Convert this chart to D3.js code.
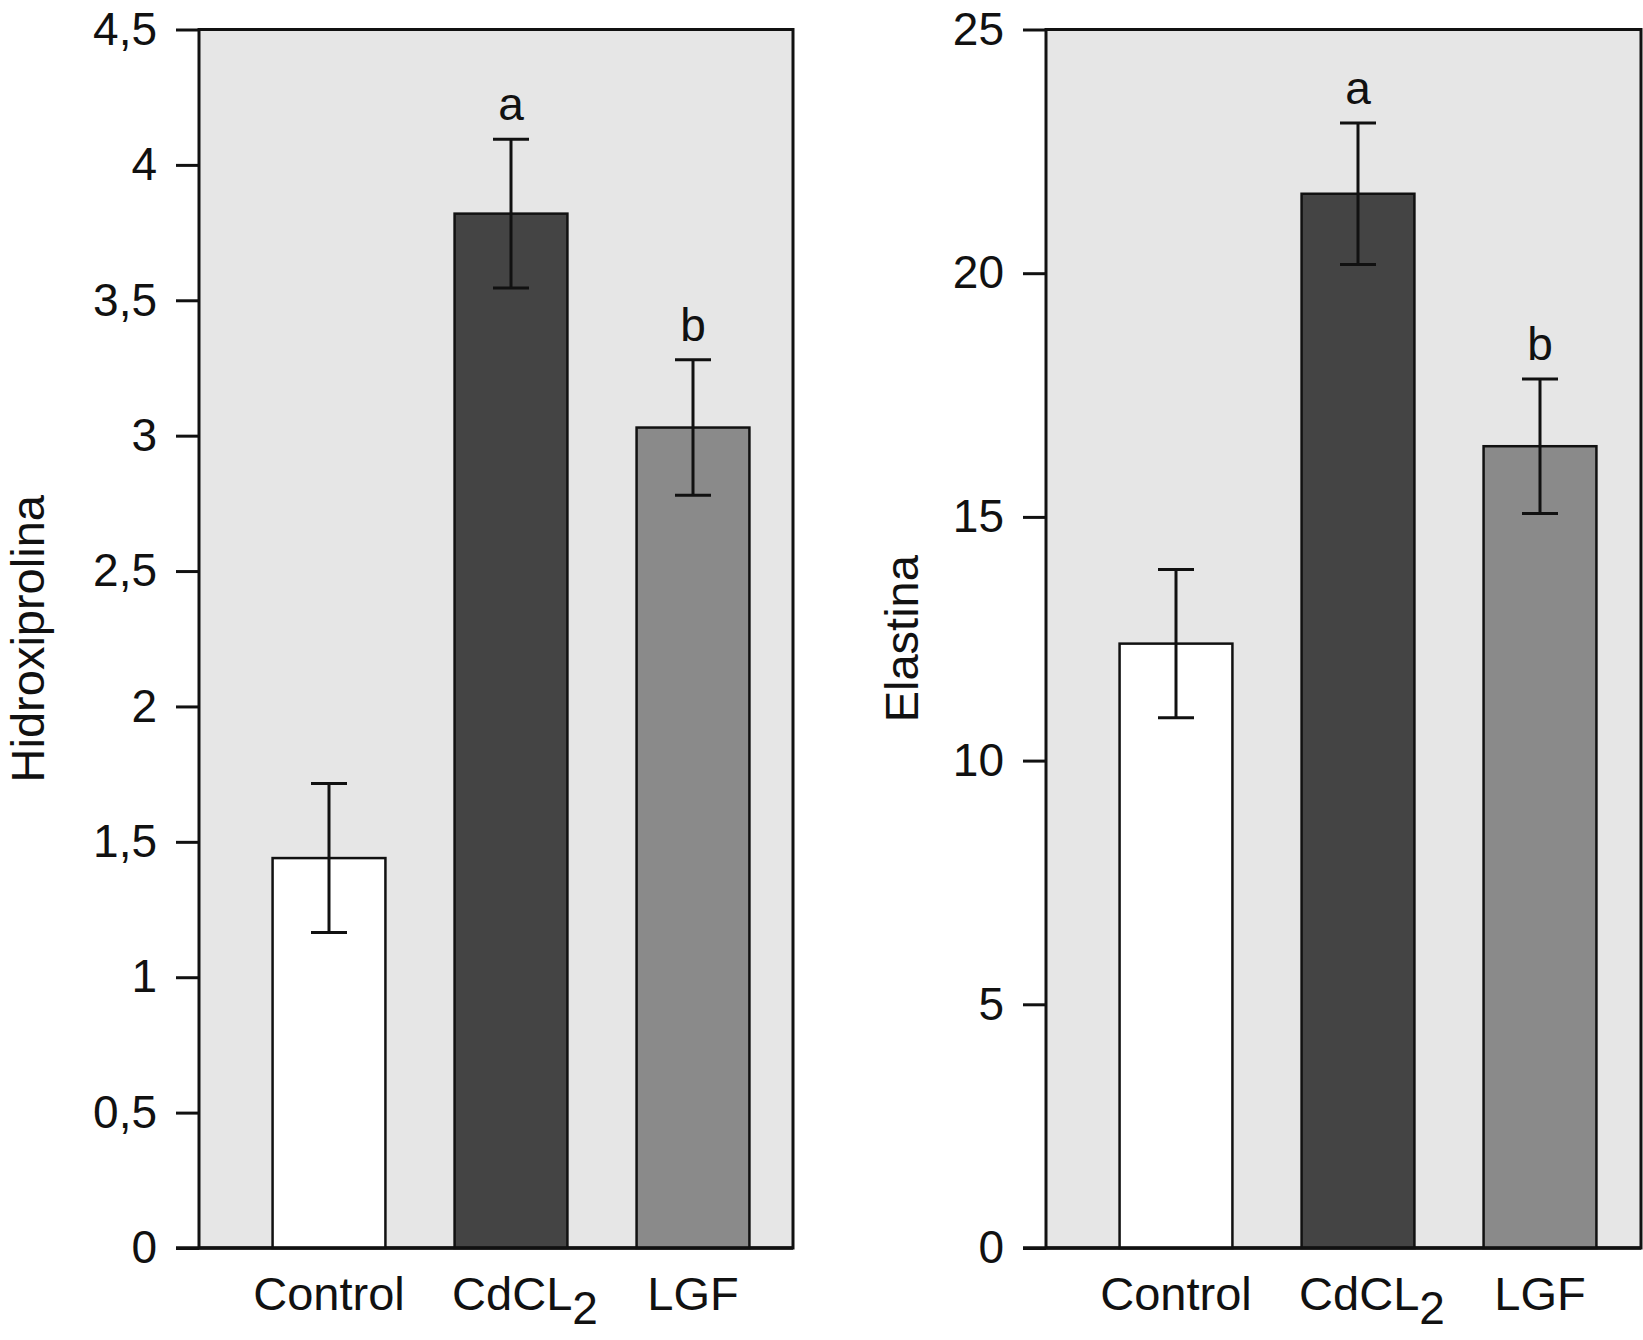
<!DOCTYPE html>
<html lang="en">
    <head>
        <meta charset="utf-8">
        <title>Hidroxiprolina y Elastina</title>
        <script src="https://d3js.org/d3.v7.min.js"></script>
        <style>
            body {
                margin: 0;
                background: white;
            }
            text {
                font-family: "Liberation Sans", Arial, Helvetica, sans-serif;
                fill: #111;
            }
        </style>
    </head>
    <body>
        <script type="text/javascript">

            // data
            var groups = ["Control", "CdCL2", "LGF"];
            var letters = ["", "a", "b"];

            var hidroxiMeans = [1.44, 3.82, 3.03];
            var hidroxiErr = [0.275, 0.275, 0.25];
            var hidroxiTicks = [0, 0.5, 1, 1.5, 2, 2.5, 3, 3.5, 4, 4.5];

            var elastinaMeans = [12.4, 21.63, 16.45];
            var elastinaErr = [1.52, 1.45, 1.38];
            var elastinaTicks = [0, 5, 10, 15, 20, 25];

            var barFills = ["#ffffff", "#444444", "#8a8a8a"];

            var width = 1643, height = 1340;
            var plotTop = 29.5, plotBottom = 1248;

            var comma = d3.formatLocale({decimal: ",", thousands: ".", grouping: [3], currency: ["", ""]});
            var fmt = function(d) { return comma.format("")(d); };

            var svg = d3.select("body")
                        .append("svg")
                        .attr("width", width)
                        .attr("height", height);

            function drawPanel(p) {
                var g = svg.append("g");

                var x = d3.scaleBand()
                          .domain(groups)
                          .range([p.left + 39, p.left + 585])
                          .paddingInner(0.38)
                          .paddingOuter(0.19);

                var y = d3.scaleLinear()
                          .domain([0, p.max])
                          .range([plotBottom, plotTop]);

                // grey plot box
                g.append("rect")
                    .attr("x", p.left)
                    .attr("y", plotTop)
                    .attr("width", p.right - p.left)
                    .attr("height", plotBottom - plotTop)
                    .attr("fill", "#e6e6e6")
                    .attr("stroke", "#111")
                    .attr("stroke-width", 3);

                var rows = groups.map(function(k, i) {
                    return {key: k, mean: p.means[i], err: p.err[i], fill: barFills[i], letter: letters[i]};
                });

                g.selectAll("rect.bar")
                    .data(rows)
                    .enter()
                    .append("rect")
                    .attr("class", "bar")
                    .attr("x", d => x(d.key))
                    .attr("y", d => y(d.mean))
                    .attr("width", x.bandwidth())
                    .attr("height", d => plotBottom - y(d.mean))
                    .attr("fill", d => d.fill)
                    .attr("stroke", "#111")
                    .attr("stroke-width", 2.5);

                // error bars
                var eb = g.selectAll("g.err")
                    .data(rows)
                    .enter()
                    .append("g")
                    .attr("class", "err")
                    .attr("stroke", "#111")
                    .attr("stroke-width", 3);

                var cx = d => x(d.key) + x.bandwidth() / 2;
                var capW = 18;

                eb.append("line")
                    .attr("x1", cx).attr("x2", cx)
                    .attr("y1", d => y(d.mean + d.err))
                    .attr("y2", d => y(d.mean - d.err));
                eb.append("line")
                    .attr("x1", d => cx(d) - capW).attr("x2", d => cx(d) + capW)
                    .attr("y1", d => y(d.mean + d.err))
                    .attr("y2", d => y(d.mean + d.err));
                eb.append("line")
                    .attr("x1", d => cx(d) - capW).attr("x2", d => cx(d) + capW)
                    .attr("y1", d => y(d.mean - d.err))
                    .attr("y2", d => y(d.mean - d.err));

                // significance letters
                g.selectAll("text.letter")
                    .data(rows.filter(d => d.letter))
                    .enter()
                    .append("text")
                    .attr("class", "letter")
                    .attr("x", cx)
                    .attr("y", d => y(d.mean + d.err) - 19)
                    .attr("text-anchor", "middle")
                    .style("font-size", "46px")
                    .text(d => d.letter);

                // y axis
                var axis = d3.axisLeft(y)
                             .tickValues(p.ticks)
                             .tickFormat(fmt)
                             .tickSize(23)
                             .tickSizeOuter(0)
                             .tickPadding(19);

                var ax = g.append("g")
                    .attr("transform", `translate(${p.left},0)`)
                    .call(axis);
                ax.select(".domain").remove();
                ax.selectAll(".tick line")
                    .attr("stroke", "#111")
                    .attr("stroke-width", 3);
                ax.selectAll(".tick text")
                    .attr("fill", "#111")
                    .style("font-size", "46px")
                    .style("font-family", "'Liberation Sans', Arial, sans-serif");

                // baseline drawn over the bars
                g.append("line")
                    .attr("x1", p.left - 23).attr("x2", p.right)
                    .attr("y1", plotBottom).attr("y2", plotBottom)
                    .attr("stroke", "#111")
                    .attr("stroke-width", 3.5);

                // category labels
                var lab = g.selectAll("text.cat")
                    .data(rows)
                    .enter()
                    .append("text")
                    .attr("class", "cat")
                    .attr("x", d => cx(d) + (/\d$/.test(d.key) ? 14 : 0))
                    .attr("y", 1310)
                    .attr("text-anchor", "middle")
                    .style("font-size", "47px");

                lab.each(function(d) {
                    var t = d3.select(this);
                    var m = d.key.match(/^(.*?)(\d+)$/);
                    if (m) {
                        t.append("tspan").text(m[1]);
                        t.append("tspan")
                            .attr("dy", 14)
                            .style("font-size", "46px")
                            .text(m[2]);
                    } else {
                        t.text(d.key);
                    }
                });

                // y label
                g.append("text")
                    .attr("transform", `translate(${p.labelX},${(plotTop + plotBottom) / 2}) rotate(-90)`)
                    .attr("text-anchor", "middle")
                    .style("font-size", "47px")
                    .text(p.title);
            }

            drawPanel({left: 199, right: 793, max: 4.5, ticks: hidroxiTicks,
                       means: hidroxiMeans, err: hidroxiErr, title: "Hidroxiprolina", labelX: 44});

            drawPanel({left: 1046, right: 1641, max: 25, ticks: elastinaTicks,
                       means: elastinaMeans, err: elastinaErr, title: "Elastina", labelX: 918});

        </script>
    </body>
</html>
